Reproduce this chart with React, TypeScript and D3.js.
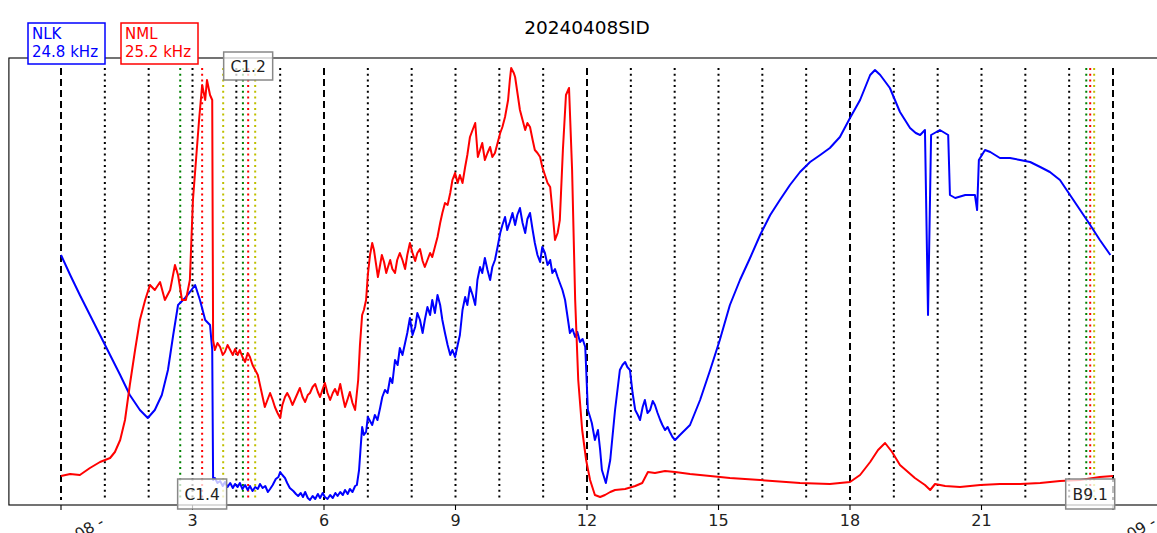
import * as d3 from 'd3';

// hours UTC, signal (arbitrary units)
const nlkTimes = [
  0, 0.21, 0.43, 0.66, 0.89, 1.12, 1.35, 1.57, 1.8, 1.98, 2.14, 2.3, 2.44, 2.56, 2.67, 2.83, 2.94, 3.06, 3.17,
  3.29, 3.4, 3.45,
  3.47, 3.51, 3.57, 3.63, 3.69, 3.74, 3.8, 3.86, 3.92, 3.97, 4.03, 4.08, 4.14, 4.2, 4.26, 4.31, 4.37, 4.43, 4.49,
  4.54, 4.6, 4.66, 4.72, 4.77, 4.83, 4.9, 4.96, 5.0, 5.05, 5.11, 5.16, 5.22, 5.3, 5.36, 5.41, 5.47, 5.52, 5.57,
  5.63, 5.68, 5.74, 5.8, 5.86, 5.91, 5.97, 6.02, 6.08, 6.14, 6.2, 6.26, 6.31, 6.37, 6.43, 6.48, 6.54, 6.59, 6.65,
  6.71,
  6.75, 6.8, 6.84, 6.87, 6.91, 6.96, 7.0, 7.05, 7.1, 7.16, 7.22, 7.28, 7.33, 7.39, 7.45, 7.51, 7.56, 7.62, 7.68,
  7.73, 7.79, 7.85, 7.9, 7.96, 8.02, 8.08, 8.13, 8.19, 8.25, 8.3, 8.36, 8.42, 8.47, 8.53, 8.59, 8.65, 8.7, 8.76,
  8.82, 8.88, 8.93, 8.99, 9.05, 9.1, 9.16, 9.22, 9.27, 9.33, 9.39, 9.45, 9.5, 9.56, 9.61, 9.67, 9.73, 9.79, 9.84,
  9.9, 9.96, 10.02, 10.07, 10.13, 10.18, 10.24, 10.3, 10.36, 10.41, 10.47, 10.53, 10.59, 10.64, 10.7, 10.76,
  10.81, 10.87, 10.93, 10.98, 11.04, 11.1, 11.16, 11.21, 11.27, 11.33, 11.38, 11.44, 11.5, 11.55, 11.61, 11.67,
  11.73, 11.78, 11.84, 11.9, 11.96,
  12.02, 12.07, 12.11, 12.18, 12.25, 12.3, 12.34, 12.43, 12.53, 12.64, 12.75, 12.81, 12.87, 12.92, 12.98, 13.04,
  13.1, 13.16, 13.21, 13.27, 13.32, 13.38, 13.44, 13.5, 13.55, 13.61, 13.67, 13.72, 13.78, 13.84, 13.89, 13.95,
  14.01, 14.12, 14.35, 14.58, 14.81, 15.03, 15.26, 15.49, 15.72, 15.95, 16.18, 16.4, 16.63, 16.86, 17.09, 17.32,
  17.54, 17.77, 18.0, 18.23, 18.46, 18.57, 18.69, 18.91, 19.14, 19.37, 19.5, 19.6, 19.71, 19.78, 19.85, 20.05,
  20.24, 20.28, 20.4, 20.63, 20.85, 20.9, 20.94, 21.08, 21.2, 21.42, 21.65, 21.88, 22.11, 22.34, 22.56, 22.79,
  23.02, 23.25, 23.48, 23.7, 23.94,
];
const nlkValues = [
  250, 230, 210, 190, 170, 150, 130, 110, 95, 87, 95, 110, 135, 170, 200, 207, 213, 220, 205,
  185, 180, 155,
  25, 27, 22, 24, 19, 23, 18, 22, 17, 21, 18, 22, 16, 20, 15, 19, 14, 18, 16,
  21, 17, 19, 13, 16, 20, 26, 28, 33, 30, 27, 22, 17, 14, 11, 9, 12, 8, 13,
  7, 5, 9, 6, 11, 7, 12, 8, 6, 10, 7, 12, 9, 13, 10, 15, 11, 16, 13,
  19,
  20, 35, 60, 78, 70, 73, 88, 84, 80, 90, 85, 97, 108, 115, 112, 127, 122, 145, 140,
  157, 150, 162, 172, 187, 170, 178, 192, 185, 172, 185, 198, 190, 205, 192, 210, 200, 185, 172,
  160, 150, 155, 148, 160, 170, 195, 208, 200, 218, 210, 200, 225, 238, 232, 247, 235, 225, 238,
  245, 258, 272, 280, 288, 275, 283, 292, 280, 290, 297, 282, 272, 286, 292, 275,
  262, 250, 243, 258, 252, 240, 245, 232, 236, 228, 222, 215, 205, 190, 172, 176,
  168, 173, 163, 166, 158,
  95, 88, 82, 65, 75, 55, 35, 22, 45, 95, 135, 140, 143, 138, 135, 112,
  95, 90, 85, 98, 105, 92, 95, 104, 100, 92, 85, 80, 75, 78, 73, 68,
  65, 70, 80, 105, 135, 165, 200, 225, 247, 270, 290, 305, 320, 333, 343, 350,
  357, 368, 387, 405, 430, 435, 430, 417, 393, 377, 372, 370, 375, 190, 370, 375,
  370, 310, 307, 310, 310, 295, 345, 355, 353, 347, 347, 345, 343, 338, 333, 325,
  310, 295, 280, 265, 250,
];

const nmlTimes = [
  0, 0.21, 0.43, 0.66, 0.89, 1.12, 1.23, 1.35, 1.46, 1.57, 1.69, 1.8, 1.92, 2.03, 2.14, 2.26, 2.37, 2.49, 2.6,
  2.67, 2.76, 2.85, 2.94, 3.01, 3.08, 3.15, 3.22, 3.29, 3.33, 3.4, 3.45,
  3.47, 3.51, 3.57, 3.63, 3.69, 3.74, 3.8, 3.86, 3.92, 3.97, 4.03, 4.08, 4.14, 4.2, 4.26, 4.31, 4.37, 4.43, 4.49,
  4.54, 4.6, 4.65, 4.71, 4.77, 4.83, 4.88, 4.94, 5.0, 5.05, 5.11, 5.16, 5.22, 5.28, 5.34, 5.4, 5.45, 5.51, 5.57,
  5.63, 5.68, 5.74, 5.8, 5.86, 5.91, 5.97, 6.02, 6.08, 6.14, 6.2, 6.25, 6.31, 6.37, 6.43, 6.48, 6.54, 6.59, 6.65,
  6.71,
  6.78, 6.82, 6.87, 6.91, 6.96, 7.0, 7.05, 7.1, 7.14, 7.19, 7.23, 7.28, 7.32, 7.37, 7.42, 7.46, 7.51, 7.56, 7.62,
  7.67, 7.73, 7.79, 7.85, 7.9, 7.96, 8.02, 8.08, 8.13, 8.19, 8.25, 8.3, 8.36, 8.42, 8.47, 8.53, 8.59, 8.65, 8.7,
  8.76, 8.82, 8.88, 8.93, 8.99, 9.05, 9.1, 9.16, 9.22, 9.27, 9.33, 9.39, 9.45, 9.48, 9.51, 9.56, 9.61, 9.67, 9.73,
  9.79, 9.84, 9.9, 9.96, 10.02, 10.07, 10.13, 10.2, 10.24, 10.27, 10.33, 10.36, 10.42, 10.47, 10.53, 10.59,
  10.64, 10.7, 10.76, 10.81, 10.87, 10.93, 10.98, 11.04, 11.1, 11.16, 11.21, 11.27, 11.33, 11.38,
  11.45, 11.52, 11.59, 11.66, 11.73, 11.8, 11.89, 11.98, 12.07, 12.18, 12.3, 12.41, 12.53, 12.64, 12.87, 13.1,
  13.26, 13.39, 13.55, 13.78, 14.01, 14.35, 14.81, 15.26, 15.95, 16.86, 17.54, 18.0, 18.23, 18.46, 18.64, 18.8,
  18.96, 19.14, 19.48, 19.71, 19.83, 19.94, 20.17, 20.51, 20.97, 21.42, 21.88, 22.34, 22.79, 23.25, 23.7, 24.0,
];
const nmlValues = [
  29, 31, 30, 37, 43, 47, 53, 65, 85, 120, 155, 185, 205, 220, 215, 223, 205, 215, 240,
  230, 205, 205, 225, 305, 345, 385, 420, 405, 425, 410, 405,
  165, 155, 162, 158, 150, 153, 160, 155, 150, 156, 150, 155, 148, 143, 152, 148, 140, 135, 130,
  120, 108, 98, 105, 112, 105, 98, 92, 87, 100, 108, 112, 107, 100, 106, 112, 117, 108, 103,
  110, 112, 118, 121, 113, 108, 116, 122, 112, 105, 112, 116, 110, 121, 108, 98, 106, 113, 102,
  95,
  125, 160, 190, 195, 205, 230, 250, 262, 255, 240, 228, 240, 250, 243, 232, 238, 245, 236, 232,
  245, 252, 245, 236, 250, 262, 252, 244, 252, 256, 244, 238, 245, 252, 248, 258, 268, 282, 292,
  302, 300, 312, 325, 332, 322, 330, 322, 338, 350, 368, 375, 382, 365, 348, 355, 362, 345, 352,
  358, 348, 352, 362, 372, 378, 388, 405, 425, 437, 432, 428, 410, 395, 385, 375,
  382, 378, 365, 355, 352, 348, 338, 330, 322, 318, 295, 265, 272, 285,
  355, 410, 417, 335, 205, 125, 75, 45, 25, 10, 8, 10, 13, 15, 16, 19,
  22, 33, 32, 34, 33, 31, 29, 27, 25, 22, 21, 23, 30, 43, 55, 62,
  53, 40, 27, 20, 15, 21, 19, 18, 20, 21, 21, 22, 24, 25, 28, 29,
];

// flares: class, start / peak / end (hours UTC)
const flareClasses = ['C1.4', 'C1.2', 'B9.1'];
const flareStart = [2.72, 4.15, 23.39];
const flarePeak = [3.22, 4.27, 23.48];
const flareEnd = [3.7, 4.43, 23.57];

const hourTicks = [0, 3, 6, 9, 12, 15, 18, 21, 24];
const dateLabels = ['2024-04-08 -', '2024-04-09 -'];
const title = '20240408SID';
const stations = [
  { name: 'NLK', freq: '24.8 kHz', color: '#0000ff' },
  { name: 'NML', freq: '25.2 kHz', color: '#ff0000' },
];

const W = 1157;
const H = 533;
const FONT = 'DejaVu Sans, sans-serif';

export default function App() {
  const x = d3.scaleLinear().domain([0, 24]).range([61, 1113]);
  const y = d3.scaleLinear().domain([0, 447]).range([505, 58]);
  const pad = 1.2; // hours of margin each side of the day

  const nlk = nlkTimes.map((t, i) => [t, nlkValues[i]] as [number, number]);
  const nml = nmlTimes.map((t, i) => [t, nmlValues[i]] as [number, number]);
  const line = d3
    .line<[number, number]>()
    .x((d) => x(d[0]))
    .y((d) => y(d[1]));

  const all = [...nlkValues, ...nmlValues];
  const vLo = y(d3.min(all)!);
  const vHi = y(d3.max(all)!);

  const hours = d3.range(0, 25);

  // put a flare label on the bottom row unless it would collide with the previous one
  const boxW = 49;
  let lastBottom = -Infinity;
  const labelRows = flarePeak.map((p) => {
    const cx = x(p);
    if (cx - boxW / 2 > lastBottom + 2) {
      lastBottom = cx + boxW / 2;
      return 'bottom';
    }
    return 'top';
  });

  const flareColors = ['#008000', '#ff0000', '#bfbf00'];

  return (
    <svg width={W} height={H} style={{ position: 'absolute', left: 0, top: 0, background: '#fff' }} fontFamily={FONT}>
      <text x={587} y={34} textAnchor='middle' fontSize={18.5} fill='#000'>
        {title}
      </text>

      {/* hour lines */}
      {hours.map((h) => (
        <line
          key={'h' + h}
          x1={x(h)}
          x2={x(h)}
          y1={vHi}
          y2={vLo}
          stroke='#000'
          strokeWidth={2}
          strokeDasharray={h % 6 === 0 ? '7,4' : '2,3.7'}
        />
      ))}

      {/* flare lines */}
      {flareClasses.map((c, i) =>
        [flareStart[i], flarePeak[i], flareEnd[i]].map((t, j) => (
          <line
            key={c + j}
            x1={x(t)}
            x2={x(t)}
            y1={vHi}
            y2={vLo}
            stroke={flareColors[j]}
            strokeWidth={2}
            strokeDasharray='2,3.7'
          />
        )),
      )}

      <path d={line(nlk) ?? ''} fill='none' stroke={stations[0].color} strokeWidth={2} strokeLinejoin='round' />
      <path d={line(nml) ?? ''} fill='none' stroke={stations[1].color} strokeWidth={2} strokeLinejoin='round' />

      {/* frame */}
      <rect
        x={x(-pad) + 0.5}
        y={y(447)}
        width={x(24 + pad) - x(-pad)}
        height={y(0) - y(447)}
        fill='none'
        stroke='#000'
        strokeWidth={1.1}
      />

      {/* x axis */}
      {hourTicks.map((h) => (
        <g key={'t' + h} transform={`translate(${x(h)},${y(0)})`}>
          <line y1={0} y2={5} stroke='#000' strokeWidth={1.1} />
          {h > 0 && h < 24 && (
            <text y={21} textAnchor='middle' fontSize={16} fill='#222'>
              {h}
            </text>
          )}
        </g>
      ))}
      {[0, 24].map((h, i) => (
        <text
          key={'d' + h}
          transform={`translate(${x(h) + 44},${y(0) + 20}) rotate(-30)`}
          textAnchor='end'
          fontSize={15.5}
          fill='#222'
        >
          {dateLabels[i]}
        </text>
      ))}

      {/* flare labels */}
      {flareClasses.map((c, i) => {
        const cx = x(flarePeak[i]);
        const top = labelRows[i] === 'top';
        const by = top ? 52 : 479;
        return (
          <g key={'lab' + c}>
            <rect
              x={cx - boxW / 2}
              y={by}
              width={boxW}
              height={top ? 28 : 30}
              fill='#fff'
              fillOpacity={0.75}
              stroke='#888'
              strokeWidth={1.5}
            />
            <text x={cx} y={by + (top ? 20 : 21)} textAnchor='middle' fontSize={15.5} fill='#222'>
              {c}
            </text>
          </g>
        );
      })}

      {/* station legend */}
      {stations.map((s, i) => (
        <g key={s.name} transform={`translate(${28 + i * 93},23)`}>
          <rect width={77} height={41} fill='#fff' stroke={s.color} strokeWidth={1.5} />
          <text x={4} y={16} fontSize={15} fill={s.color}>
            {s.name}
          </text>
          <text x={4} y={34} fontSize={15} fill={s.color}>
            {s.freq}
          </text>
        </g>
      ))}
    </svg>
  );
}
